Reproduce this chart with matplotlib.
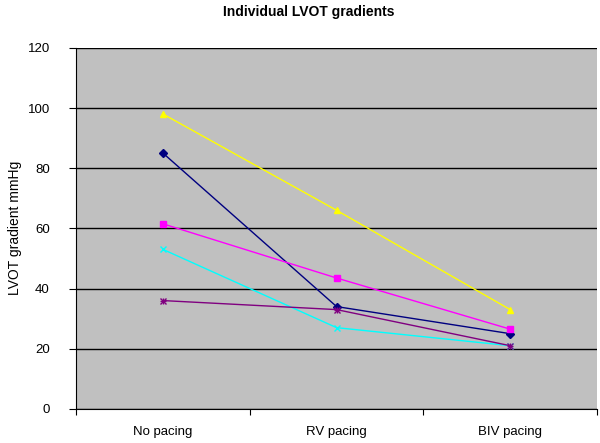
import matplotlib
matplotlib.use('Agg')
import matplotlib.pyplot as plt

categories = ['No pacing', 'RV pacing', 'BIV pacing']
navy_vals = [85, 34, 25]
magenta_vals = [61.5, 43.5, 26.5]
yellow_vals = [98, 66, 33]
cyan_vals = [53, 27, 21]
purple_vals = [36, 33, 21]

plt.rcParams['font.family'] = ['Liberation Sans', 'DejaVu Sans']

fig = plt.figure(figsize=(6, 4.43), dpi=100)
ax = fig.add_axes([0.127, 0.077, 0.868, 0.815])
ax.set_facecolor('#C0C0C0')

x = range(len(categories))
ax.plot(x, navy_vals, color='#000080', marker='D', ms=4, lw=1)
ax.plot(x, magenta_vals, color='#FF00FF', marker='s', ms=4, lw=1)
ax.plot(x, yellow_vals, color='#FFFF00', marker='^', ms=5, lw=1)
ax.plot(x, cyan_vals, color='#00FFFF', marker='x', ms=4, lw=1)
ax.plot(x, purple_vals, color='#800080', marker='x', ms=4, lw=1)
ax.plot(x, purple_vals, color='#800080', marker='+', ms=5, lw=0)

ax.set_xlim(-0.5, 2.5)
ax.set_ylim(0, 120)
ax.set_yticks(range(0, 121, 20))
ax.yaxis.grid(True, color='black', lw=1)
ax.set_axisbelow(True)

ax.set_xticks([-0.5, 0.5, 1.5, 2.5])
ax.set_xticklabels([])
ax.set_xticks(list(x), minor=True)
ax.set_xticklabels(categories, minor=True)
ax.tick_params(axis='x', which='minor', length=0, pad=12.5, labelsize=9.5)
ax.tick_params(axis='x', which='major', direction='out', length=4)
ax.tick_params(axis='y', direction='out', length=5, labelsize=9.5, pad=14)

for s in ['top', 'right']:
    ax.spines[s].set_visible(False)
ax.spines['left'].set_color('black')
ax.spines['bottom'].set_color('black')

ax.set_ylabel('LVOT gradient mmHg', fontsize=10, labelpad=4)
fig.suptitle('Individual LVOT gradients', fontsize=10, fontweight='bold', x=0.515, y=0.988)

fig.savefig('out.png')
